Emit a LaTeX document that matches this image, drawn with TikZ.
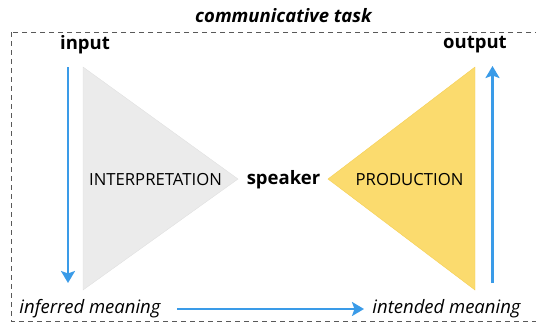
\documentclass[tikz,border=0pt]{standalone}
\usepackage{fontspec}
\setmainfont{Open Sans}
\usepackage{tikz}
\usetikzlibrary{positioning}
\usetikzlibrary{arrows.meta}

\definecolor{flowblue}{HTML}{3A9BE8}
\definecolor{interpgray}{HTML}{EBEBEB}
\definecolor{interpedge}{HTML}{E0E0E0}
\definecolor{prodyellow}{HTML}{FBDB6E}
\definecolor{prodedge}{HTML}{F5CF55}

\tikzset{
  flow/.style={draw=flowblue, line width=2.4pt, -{Stealth[length=12pt,width=14pt,inset=2.5pt]}},
  label/.style={font=\fontsize{18.5}{20}\selectfont\bfseries, inner sep=0pt},
  meaning/.style={font=\fontsize{18.5}{20}\selectfont\itshape, inner sep=0pt},
  stage/.style={font=\fontsize{16.7}{18}\selectfont, inner sep=0pt}
}

\begin{document}
\begin{tikzpicture}[x=1pt,y=-1pt]
  \useasboundingbox (0,0) rectangle (536,327);
  % frame
  \draw[dash pattern=on 5pt off 4pt, line width=1pt, black!65] (11,32) rectangle (540,321);
  \node[font=\fontsize{18.5}{20}\selectfont\bfseries\itshape, inner sep=0pt] (task) at (283.5,16) {communicative task};
  % stages
  \fill[interpgray, draw=interpedge] (83,67) -- (238,179) -- (83,290) -- cycle;
  \fill[prodyellow, draw=prodedge] (475,67) -- (328,179) -- (475,290) -- cycle;
  \node[stage] (interp) at (155.5,180) {INTERPRETATION};
  \node[stage] (prod) at (409.5,180) {PRODUCTION};
  \node[label] (speaker) at (283.5,180) {speaker};
  % ends
  \node[label] (input) at (85,45) {input};
  \node[label] (output) at (475,45) {output};
  \node[meaning] (inferred) at (90,309) {inferred meaning};
  \node[meaning] (intended) at (446.5,309) {intended meaning};
  \coordinate (inTop) at (68,67);
  \coordinate (inBot) at (68,283);
  \coordinate (outBot) at (492.5,283);
  \coordinate (outTop) at (492.5,66);
  \coordinate (midL) at (177,309);
  \coordinate (midR) at (364,309);
  \draw[flow] (inTop) -- (inBot);
  \draw[flow] (outBot) -- (outTop);
  \draw[flow] (midL) -- (midR);
\end{tikzpicture}
\end{document}
